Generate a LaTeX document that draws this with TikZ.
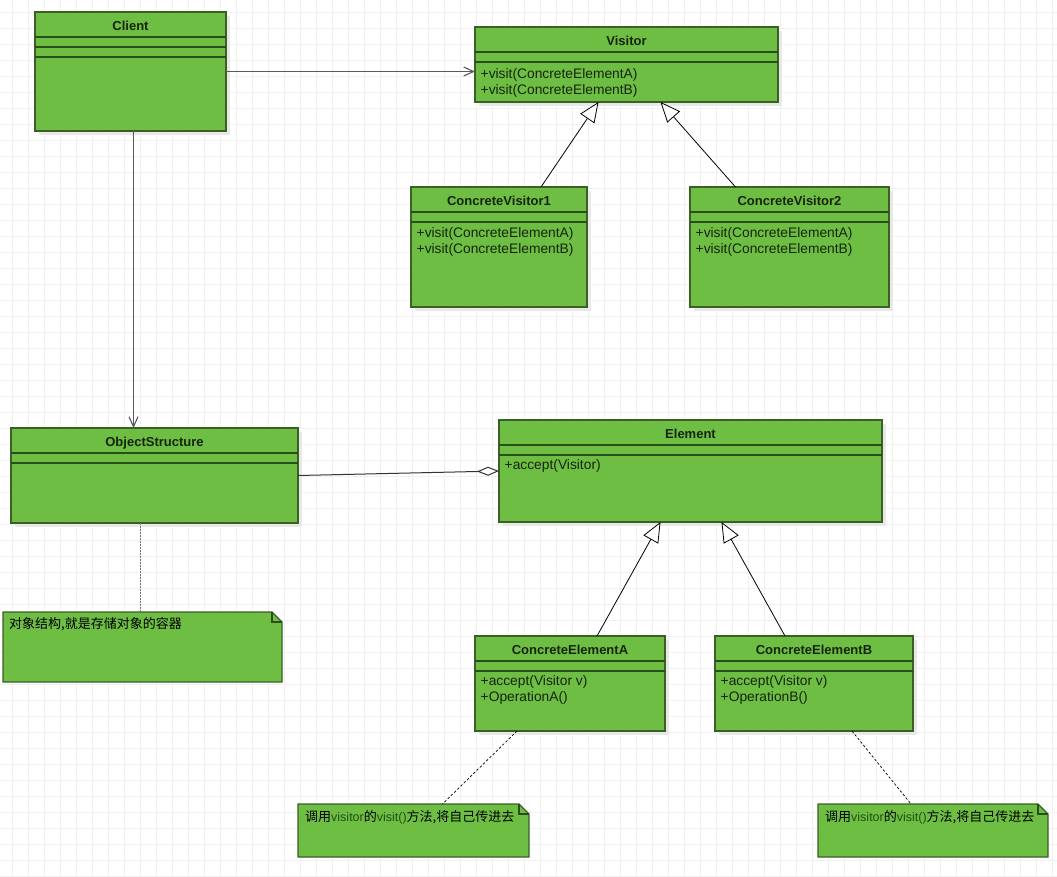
\documentclass[tikz,border=0pt]{standalone}
\usepackage{fontspec}
\setmainfont{Liberation Sans}
\newfontfamily\cjk{Noto Sans CJK SC}
\usetikzlibrary{arrows.meta, shadows}

\definecolor{umlgreen}{RGB}{110,190,68}
\definecolor{umledge}{RGB}{58,96,38}
\definecolor{umlsepcol}{RGB}{42,78,26}
\definecolor{umlink}{RGB}{22,36,12}
\definecolor{notelatin}{RGB}{34,78,20}
\definecolor{gridgray}{RGB}{240,240,240}

\tikzset{
  gridline/.style={draw=gridgray, line width=0.8pt},
  classbox/.style={draw=umledge, fill=umlgreen, line width=1.2pt, anchor=north west, inner sep=0pt, outer sep=0pt,
    drop shadow={shadow xshift=4pt, shadow yshift=-4pt, fill=black!9, opacity=1}},
  classname/.style={anchor=base, inner sep=0pt, text=umlink, font=\fontsize{13}{16}\selectfont\bfseries},
  classop/.style={anchor=base west, inner sep=0pt, text=umlink, font=\fontsize{13.8}{16}\selectfont},
  classsep/.style={draw=umlsepcol, line width=1.8pt},
  notebox/.style={anchor=north west, inner sep=0pt, outer sep=0pt},
  noteshape/.style={draw=umledge, fill=umlgreen, line width=1.2pt},
  notefold/.style={draw=umlsepcol, line width=1.2pt},
  notetext/.style={anchor=base west, inner sep=0pt, font=\fontsize{13}{16}\selectfont},
  uses/.style={draw=black!65, line width=1.1pt, -{Straight Barb[length=10pt,width=9pt]}},
  inherits/.style={draw=black, line width=0.8pt, -{Triangle[length=20pt,width=17pt,fill=white]}},
  holds/.style={draw=black!80, line width=1pt, -{Diamond[length=22pt,width=9pt,fill=white]}},
  noteline/.style={draw=black, line width=0.7pt, dash pattern=on 2.5pt off 2pt},
  notedots/.style={draw=black!55, line width=1.5pt, dash pattern=on 1.5pt off 1.5pt},
}

% class box: name, top left corner, width, height, class name
\newcommand{\umlclass}[5]{%
  \node[classbox, minimum width=#3pt, minimum height=#4pt] (#1) at (#2) {};
  \node[classname] (#1-name) at ([yshift=-18pt]#1.north) {#5};
  \draw[classsep] ([yshift=-25pt]#1.north west) -- ([yshift=-25pt]#1.north east);
  \draw[classsep] ([yshift=-35pt]#1.north west) -- ([yshift=-35pt]#1.north east);
}

% note with folded corner: name, top left corner, width, height
\newcommand{\umlnote}[4]{%
  \node[notebox, minimum width=#3pt, minimum height=#4pt] (#1) at (#2) {};
  \draw[noteshape] (#1.north west) -- ([xshift=-10pt]#1.north east) -- ([yshift=-10pt]#1.north east)
    -- (#1.south east) -- (#1.south west) -- cycle;
  \draw[notefold] ([xshift=-10pt]#1.north east) -- ([xshift=-10pt,yshift=-10pt]#1.north east) -- ([yshift=-10pt]#1.north east);
}

\begin{document}
\begin{tikzpicture}[x=1pt, y=-1pt]
    \useasboundingbox (0,0) rectangle (1057,876);  % page size of the diagram
    \fill[white] (0,0) rectangle (1057,876);
    \foreach \gx in {12,28,...,1052} \draw[gridline] (\gx,0) -- (\gx,876);  % background grid
    \foreach \gy in {12,28,...,876} \draw[gridline] (0,\gy) -- (1057,\gy);

    % classes
    \umlclass{client}{35,12}{191}{119}{Client}
    \draw[classsep] ([yshift=-45pt]client.north west) -- ([yshift=-45pt]client.north east);  % third compartment line

    \umlclass{visitor}{475,27}{303}{75}{Visitor}
    \node[classop] (visitor-op1) at ([shift={(5.5pt,-51pt)}]visitor.north west) {+visit(ConcreteElementA)};
    \node[classop] (visitor-op2) at ([yshift=-16pt]visitor-op1.base west) {+visit(ConcreteElementB)};

    \umlclass{cv1}{411,187}{176}{120}{ConcreteVisitor1}
    \node[classop] (cv1-op1) at ([shift={(5.5pt,-50pt)}]cv1.north west) {+visit(ConcreteElementA)};
    \node[classop] (cv1-op2) at ([yshift=-16pt]cv1-op1.base west) {+visit(ConcreteElementB)};

    \umlclass{cv2}{690,187}{199}{120}{ConcreteVisitor2}
    \node[classop] (cv2-op1) at ([shift={(5.5pt,-50pt)}]cv2.north west) {+visit(ConcreteElementA)};
    \node[classop] (cv2-op2) at ([yshift=-16pt]cv2-op1.base west) {+visit(ConcreteElementB)};

    \umlclass{os}{11,428}{287}{95}{ObjectStructure}

    \umlclass{element}{499,420}{383}{102}{Element}
    \node[classop] (element-op1) at ([shift={(5.5pt,-49pt)}]element.north west) {+accept(Visitor)};

    \umlclass{cea}{475,636}{190}{95}{ConcreteElementA}
    \node[classop] (cea-op1) at ([shift={(5.5pt,-49pt)}]cea.north west) {+accept(Visitor v)};
    \node[classop] (cea-op2) at ([yshift=-16pt]cea-op1.base west) {+OperationA()};

    \umlclass{ceb}{715,636}{198}{95}{ConcreteElementB}
    \node[classop] (ceb-op1) at ([shift={(5.5pt,-49pt)}]ceb.north west) {+accept(Visitor v)};
    \node[classop] (ceb-op2) at ([yshift=-16pt]ceb-op1.base west) {+OperationB()};

    % notes
    \umlnote{note1}{3,612}{279}{70}
    \node[notetext] (note1-text) at ([shift={(6pt,-16.5pt)}]note1.north west) {\cjk 对象结构,就是存储对象的容器};
    \umlnote{note2}{298,804}{231}{53}
    \node[notetext] (note2-text) at ([shift={(7pt,-17pt)}]note2.north west)
      {\cjk 调用\textcolor{notelatin}{\fontsize{12.5}{16}\rmfamily visitor}的\textcolor{notelatin}{\fontsize{12.5}{16}\rmfamily visit()}方法,将自己传进去};
    \umlnote{note3}{818,804}{230}{53}
    \node[notetext] (note3-text) at ([shift={(7pt,-17pt)}]note3.north west)
      {\cjk 调用\textcolor{notelatin}{\fontsize{12.5}{16}\rmfamily visitor}的\textcolor{notelatin}{\fontsize{12.5}{16}\rmfamily visit()}方法,将自己传进去};

    % connectors
    \draw[uses] (client.east) -- (client.east -| visitor.west);  % association to Visitor
    \draw[uses] ([xshift=3pt]client.south) -- ([xshift=3pt]client.south |- os.north);  % association to ObjectStructure
    \draw[inherits] ([xshift=42pt]cv1.north) -- ([xshift=-28pt]visitor.south);
    \draw[inherits] ([xshift=-54pt]cv2.north) -- ([xshift=34pt]visitor.south);
    \draw[holds] (os.east) -- (element.west);  % aggregation
    \draw[inherits] ([xshift=27pt]cea.north) -- ([xshift=-30pt]element.south);
    \draw[inherits] ([xshift=-29pt]ceb.north) -- ([xshift=31pt]element.south);
    \draw[notedots] ([xshift=-14pt]os.south) -- ([xshift=-14pt]os.south |- note1.north);
    \draw[noteline] ([xshift=-53pt]cea.south) -- ([xshift=29pt]note2.north);
    \draw[noteline] ([xshift=38pt]ceb.south) -- ([xshift=-22pt]note3.north);
\end{tikzpicture}
\end{document}
